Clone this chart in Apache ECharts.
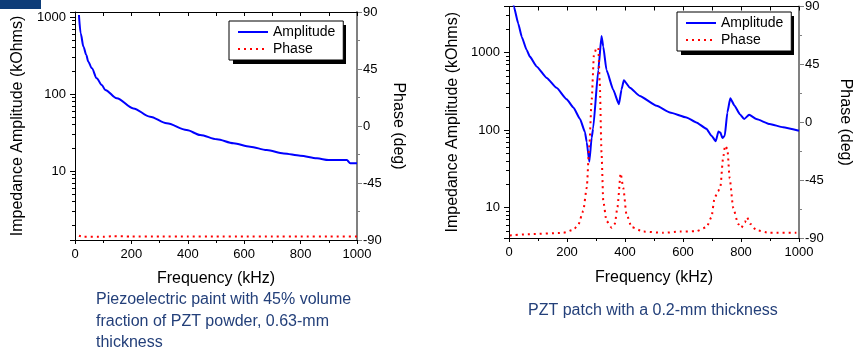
<!DOCTYPE html>
<html>
<head>
<meta charset="utf-8">
<script src="https://cdn.jsdelivr.net/npm/echarts@6/dist/echarts.min.js"></script>
<style>
  html, body { margin: 0; padding: 0; background: #fff; }
  #main { width: 857px; height: 356px; }
</style>
</head>
<body>
<div id="main"></div>
<script>
// left panel: piezoelectric paint
const paintFreq = [14, 20, 30, 40, 47, 60, 77, 95, 107, 148, 207, 266, 325, 396, 444, 503, 562, 621, 680, 740, 799, 858, 899, 964, 976, 1000];
const paintAmp = [1060, 614, 411, 321, 263, 215, 160, 131, 113, 88, 65, 50.8, 41.6, 34, 29.4, 25.8, 22.9, 20.7, 18.7, 16.9, 15.8, 14.6, 13.9, 13.9, 12.6, 12.6];
const paintPhaseFreq = [14, 30, 100, 130, 200, 300, 400, 500, 600, 700, 800, 900, 1000];
const paintPhase = [-86.6, -87.5, -87.5, -87, -87.2, -87.2, -87.2, -87.2, -87.2, -87.2, -87.2, -87.2, -87.2];

// right panel: PZT patch
const pztFreq = [10, 17, 32, 44, 61, 72, 95, 130, 164, 199, 222, 245, 262, 268, 277, 285, 290, 308, 319, 325, 336, 359, 379, 388, 396, 417, 451, 509, 555, 612, 646, 681, 698, 713, 722, 729, 736, 744, 753, 763, 778, 796, 811, 828, 853, 899, 945, 1000];
const pztAmp = [5200, 3900, 2360, 1597, 1080, 889, 664, 472, 352, 250, 196, 139, 94, 70, 39, 80, 104, 602, 1645, 1200, 602, 335, 216, 335, 441, 352, 276, 206, 169, 146, 126, 104, 85, 72, 96, 93, 79, 85, 169, 258, 206, 161, 139, 158, 139, 120, 109, 98];
const pztPhaseFreq = [3, 72, 187, 222, 239, 256, 268, 277, 285, 293, 302, 308, 313, 319, 325, 336, 354, 365, 374, 385, 394, 405, 423, 463, 532, 589, 646, 681, 698, 709, 721, 729, 738, 745, 753, 761, 773, 790, 801, 813, 821, 832, 853, 899, 991];
const pztPhase = [-88, -87, -86, -83.7, -79.6, -69, -51, -18, 17, 52.7, 57.8, 57.8, 30, -23.3, -61, -76.6, -82, -79, -66, -39.8, -51, -71.5, -81.6, -85, -86, -85, -84.7, -81.6, -74, -58.8, -53.7, -50, -28.4, -18.2, -20.8, -43.6, -66.4, -79, -82, -77.8, -74, -79, -84, -86, -86];

const phaseTicks = [-90, -45, 0, 45, 90];
const freqTicks = [0, 200, 400, 600, 800, 1000];

const zip = (xs, ys) => xs.map((x, i) => [x, ys[i]]);

const FONT = 'Liberation Sans, Arial, sans-serif';

function logLabel(v) {
  const l = Math.log10(v);
  return Math.abs(l - Math.round(l)) < 1e-6 ? String(Math.round(v)) : '';
}

function bottomAxis(grid, gap) {
  return {
    type: 'value', gridIndex: grid, position: 'bottom',
    min: freqTicks[0], max: freqTicks[freqTicks.length - 1], interval: 200,
    axisLine: { onZero: false, lineStyle: { color: '#000', width: 1 } },
    axisTick: { length: 4, lineStyle: { color: '#000' } },
    minorTick: { show: true, splitNumber: 2, length: 3, lineStyle: { color: '#000' } },
    splitLine: { show: false },
    axisLabel: { fontSize: 13, color: '#000', margin: 8, fontFamily: FONT, formatter: v => String(v) },
    name: 'Frequency (kHz)', nameLocation: 'middle', nameGap: gap,
    nameTextStyle: { fontSize: 16, color: '#000', fontFamily: FONT }
  };
}

function topAxis(grid) {
  return {
    type: 'value', gridIndex: grid, position: 'top',
    min: 0, max: 1000, interval: 100,
    axisLine: { onZero: false, lineStyle: { color: '#000', width: 1 } },
    axisTick: { inside: true, length: 4, lineStyle: { color: '#000' } },
    axisLabel: { show: false },
    splitLine: { show: false }
  };
}

function ampAxis(grid, min, max, gap) {
  return {
    type: 'log', logBase: 10, gridIndex: grid, position: 'left',
    min: min, max: max,
    axisLine: { show: true, onZero: false, lineStyle: { color: '#000', width: 1 } },
    axisTick: { show: true, length: 5, lineStyle: { color: '#000' } },
    minorTick: { show: true, splitNumber: 9, length: 3, lineStyle: { color: '#000' } },
    splitLine: { show: false },
    axisLabel: { fontSize: 13, color: '#000', margin: 9, fontFamily: FONT, formatter: logLabel },
    name: 'Impedance Amplitude (kOhms)', nameLocation: 'middle', nameGap: gap,
    nameTextStyle: { fontSize: 16, color: '#000', fontFamily: FONT }
  };
}

function phaseAxis(grid, gap) {
  return {
    type: 'value', gridIndex: grid, position: 'right',
    min: phaseTicks[0], max: phaseTicks[phaseTicks.length - 1], interval: 45,
    axisLine: { show: true, onZero: false, lineStyle: { color: '#808080', width: 2 } },
    axisTick: { show: true, length: 5, lineStyle: { color: '#808080' } },
    minorTick: { show: true, splitNumber: 2, length: 3, lineStyle: { color: '#808080' } },
    splitLine: { show: false },
    axisLabel: { fontSize: 13, color: '#000', margin: 6, fontFamily: FONT },
    name: 'Phase (deg)', nameLocation: 'middle', nameGap: gap, nameRotate: -90,
    nameTextStyle: { fontSize: 16, color: '#000', fontFamily: FONT }
  };
}

function legendBox(left, top) {
  return {
    orient: 'vertical', left: left, top: top, z: 10,
    data: ['Amplitude', 'Phase'],
    itemWidth: 30, itemHeight: 14, itemGap: 3,
    padding: [4, 8, 4, 8],
    backgroundColor: '#fff', borderColor: '#000', borderWidth: 1, borderRadius: 0,
    itemStyle: { opacity: 0, borderWidth: 0 },
    textStyle: { fontSize: 14, color: '#000', fontFamily: FONT },
    selectedMode: false
  };
}

// solid drop shadow behind a legend box
function legendShadow(left, top) {
  return {
    type: 'rect', z: 1,
    shape: { x: left + 4, y: top + 4, width: 113, height: 39 },
    style: { fill: '#000' }
  };
}

function ampSeries(data, xi, yi, smooth) {
  return {
    name: 'Amplitude', type: 'line', xAxisIndex: xi, yAxisIndex: yi,
    data: data, symbol: 'none', showSymbol: false, clip: true,
    smooth: smooth, smoothMonotone: 'x',
    lineStyle: { color: '#0000ff', width: 2 }, itemStyle: { color: '#0000ff' }
  };
}

function phaseSeries(data, xi, yi) {
  return {
    name: 'Phase', type: 'line', xAxisIndex: xi, yAxisIndex: yi,
    data: data, symbol: 'none', showSymbol: false, clip: true,
    smooth: 0.2, smoothMonotone: 'x',
    lineStyle: { color: '#ff0000', width: 2, type: [2, 4] }, itemStyle: { color: '#ff0000' }
  };
}

const option = {
  animation: false,
  textStyle: { fontFamily: FONT },
  grid: [
    { left: 75, top: 12, width: 282, height: 228 },
    { left: 509, top: 2, width: 290, height: 236 }
  ],
  xAxis: [bottomAxis(0, 31), topAxis(0), bottomAxis(1, 32), topAxis(1)],
  yAxis: [ampAxis(0, 1.27, 1160, 49), phaseAxis(0, 33), ampAxis(1, 4.06, 3940, 48), phaseAxis(1, 38)],
  legend: [legendBox(229, 21), legendBox(677, 12)],
  series: [
    ampSeries(zip(paintFreq, paintAmp), 0, 0, 0.3),
    phaseSeries(zip(paintPhaseFreq, paintPhase), 0, 1),
    ampSeries(zip(pztFreq, pztAmp), 2, 2, 0.15),
    phaseSeries(zip(pztPhaseFreq, pztPhase), 2, 3)
  ],
  graphic: [
    { type: 'rect', shape: { x: 0, y: 0, width: 41, height: 9 }, style: { fill: '#0d3c78' } },
    legendShadow(229, 21),
    legendShadow(677, 12),
    {
      type: 'text', left: 96, top: 289,
      style: {
        text: 'Piezoelectric paint with 45% volume\nfraction of PZT powder, 0.63-mm\nthickness',
        font: '16px Liberation Sans, Arial, sans-serif', fill: '#24407a', lineHeight: 21.5
      }
    },
    {
      type: 'text', left: 528, top: 303,
      style: {
        text: 'PZT patch with a 0.2-mm thickness',
        font: '16px Liberation Sans, Arial, sans-serif', fill: '#24407a'
      }
    }
  ]
};

const myChart = echarts.init(document.getElementById('main'), null, { renderer: 'canvas' });
myChart.setOption(option);
window.addEventListener('resize', function () {
  myChart.resize();
});
</script>
</body>
</html>
